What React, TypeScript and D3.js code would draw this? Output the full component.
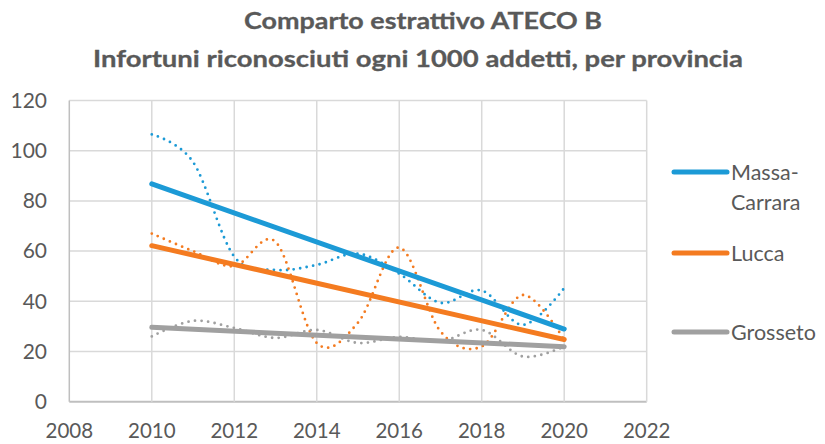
import React from "react";
import * as d3 from "d3";

const years = [2010, 2011, 2012, 2013, 2014, 2015, 2016, 2017, 2018, 2019, 2020];
const massaCarrara = [106.5, 95.5, 57.8, 52.5, 54.5, 59, 51, 39.4, 44.3, 30.6, 45.3];
const lucca = [67, 60, 54, 63.7, 23.4, 31.5, 61.4, 28, 22, 42.5, 24.6];
const grosseto = [26, 32.2, 29.4, 25.4, 28.6, 23.4, 25.8, 24, 28.6, 18, 22];
const seriesNames = ["Massa-Carrara", "Lucca", "Grosseto"];
const seriesColors = ["#1C9AD6", "#F47B20", "#A0A0A0"];
const xTicks = [2008, 2010, 2012, 2014, 2016, 2018, 2020, 2022];
const yTicks = [0, 20, 40, 60, 80, 100, 120];
const titleLines = ["Comparto estrattivo ATECO B", "Infortuni riconosciuti ogni 1000 addetti, per provincia"];

const W = 825;
const H = 444;
const FONT = "Lato, 'Open Sans', sans-serif";
const TXT = "#595959";

function linreg(xs: number[], ys: number[]) {
  const n = xs.length;
  const mx = d3.mean(xs)!;
  const my = d3.mean(ys)!;
  let sxy = 0, sxx = 0;
  for (let i = 0; i < n; i++) {
    sxy += (xs[i] - mx) * (ys[i] - my);
    sxx += (xs[i] - mx) * (xs[i] - mx);
  }
  const b = sxy / sxx;
  const a = my - b * mx;
  return (x: number) => a + b * x;
}

export default function App() {
  const x = d3.scaleLinear().domain([2008, 2022]).range([69.3, 646.7]);
  const y = d3.scaleLinear().domain([0, 120]).range([401.7, 100.5]);
  const data = [massaCarrara, lucca, grosseto];

  const smooth = d3
    .line<number>()
    .x((_, i) => x(years[i]))
    .y((d) => y(d))
    .curve(d3.curveCatmullRom.alpha(0));

  const legendY = [172, 253, 332];

  return (
    <svg
      width={W}
      height={H}
      style={{ position: "absolute", left: 0, top: 0, background: "#fff" }}
      fontFamily={FONT}
    >
      <rect width={W} height={H} fill="#fff" />
      {/* title */}
      <text x={423} y={29} textAnchor="middle" fontWeight="bold" fontSize={23} fill={TXT} stroke={TXT} strokeWidth={0.3} textLength={358} lengthAdjust="spacingAndGlyphs">
        {titleLines[0]}
      </text>
      <text x={418} y={67} textAnchor="middle" fontWeight="bold" fontSize={23} fill={TXT} stroke={TXT} strokeWidth={0.3} textLength={650} lengthAdjust="spacingAndGlyphs">
        {titleLines[1]}
      </text>

      {/* grid */}
      {yTicks.map((t) => (
        <line key={"gy" + t} x1={x(2008)} x2={x(2022)} y1={y(t)} y2={y(t)} stroke={t === 0 ? "#BFBFBF" : "#D9D9D9"} strokeWidth={t === 0 ? 2 : 1.5} />
      ))}
      {xTicks.map((t) => (
        <line key={"gx" + t} x1={x(t)} x2={x(t)} y1={y(120)} y2={y(0)} stroke={t === 2008 ? "#BFBFBF" : "#D9D9D9"} strokeWidth={1.5} />
      ))}

      {/* y labels */}
      {yTicks.map((t) => (
        <text key={"yl" + t} x={47} y={y(t)} dy="0.35em" textAnchor="end" fontSize={21} fill={TXT}>
          {t}
        </text>
      ))}
      {/* x labels */}
      {xTicks.map((t) => (
        <text key={"xl" + t} x={x(t)} y={438} textAnchor="middle" fontSize={20.5} fill={TXT}>
          {t}
        </text>
      ))}

      {/* dotted smooth lines */}
      {data.map((vals, si) => (
        <path
          key={"s" + si}
          d={smooth(vals) || ""}
          fill="none"
          stroke={seriesColors[si]}
          strokeWidth={2.8}
          strokeDasharray="0 6.6"
          strokeLinecap="round"
        />
      ))}

      {/* trend lines */}
      {data.map((vals, si) => {
        const f = linreg(years, vals);
        return (
          <line
            key={"t" + si}
            x1={x(2010)}
            y1={y(f(2010))}
            x2={x(2020)}
            y2={y(f(2020))}
            stroke={seriesColors[si]}
            strokeWidth={5}
            strokeLinecap="round"
          />
        );
      })}

      {/* legend */}
      {seriesNames.map((n, si) => (
        <g key={"lg" + si}>
          <line x1={674} x2={727} y1={legendY[si]} y2={legendY[si]} stroke={seriesColors[si]} strokeWidth={5} strokeLinecap="round" />
          {si === 0 ? (
            <text x={731} y={legendY[si]} dy="0.35em" fontSize={21.5} fill={TXT}>
              <tspan x={731}>Massa-</tspan>
              <tspan x={731} dy={30}>Carrara</tspan>
            </text>
          ) : (
            <text x={731} y={legendY[si]} dy="0.35em" fontSize={21.5} fill={TXT}>
              {n}
            </text>
          )}
        </g>
      ))}
    </svg>
  );
}
